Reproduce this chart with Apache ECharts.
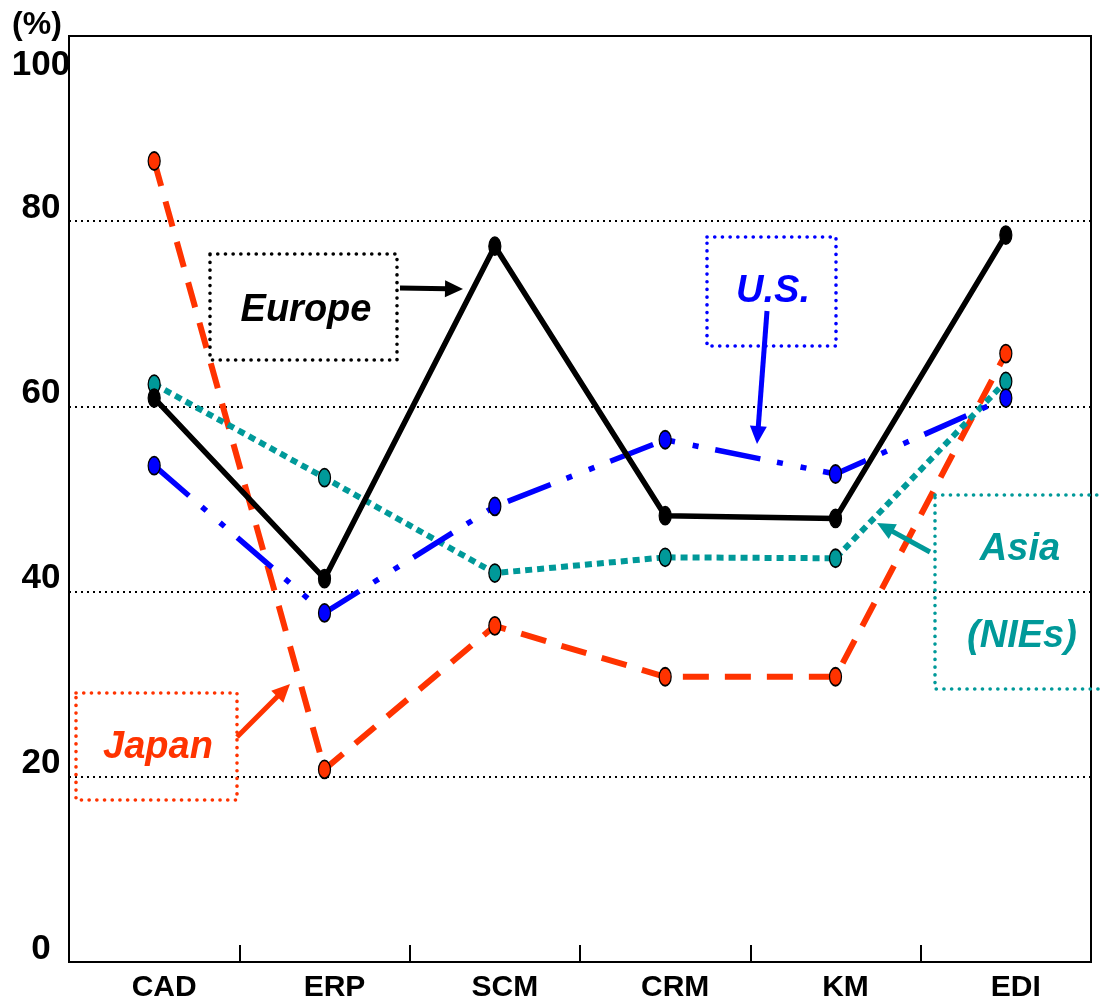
<!DOCTYPE html>
<html>
<head>
<meta charset="utf-8">
<script src="https://cdn.jsdelivr.net/npm/echarts@6/dist/echarts.min.js"></script>
<style>
html,body{margin:0;padding:0;background:#fff;}
#chart{width:1101px;height:1007px;}
</style>
</head>
<body>
<div id="chart"></div>
<script>
const categories = ['CAD', 'ERP', 'SCM', 'CRM', 'KM', 'EDI'];
const europe = [60.9, 41.4, 77.3, 48.2, 47.9, 78.5];
const us = [53.6, 37.7, 49.2, 56.4, 52.7, 60.9];
const asia = [62.4, 52.3, 42.0, 43.7, 43.6, 62.7];
const japan = [86.5, 20.8, 36.3, 30.8, 30.8, 65.7];
const yTicks = [0, 20, 40, 60, 80, 100];

const FONT = "'Liberation Sans', Arial, sans-serif";
const BLUE = '#0000FF', TEAL = '#009999', RED = '#FF3300', BLACK = '#000000';

function arrow(x1, y1, x2, y2, color) {
  const dx = x2 - x1, dy = y2 - y1, L = Math.hypot(dx, dy);
  const ux = dx / L, uy = dy / L, hl = 18, hw = 8.5;
  const bx = x2 - ux * hl, by = y2 - uy * hl;
  return [
    {type: 'line', z: 50, shape: {x1: x1, y1: y1, x2: bx + ux * 2, y2: by + uy * 2}, style: {stroke: color, lineWidth: 5}},
    {type: 'polygon', z: 50, shape: {points: [[x2, y2], [bx - uy * hw, by + ux * hw], [bx + uy * hw, by - ux * hw]]}, style: {fill: color}}
  ];
}
function box(x1, y1, x2, y2, color) {
  return {type: 'rect', z: 50, shape: {x: x1, y: y1, width: x2 - x1, height: y2 - y1},
    style: {fill: 'none', stroke: color, lineWidth: 3.6, lineDash: [0.1, 7.6], lineCap: 'round'}};
}
function label(text, x, y, color) {
  return {type: 'text', z: 51, x: x, y: y, style: {text: text, fill: color, font: "italic bold 38px " + FONT, align: 'center', verticalAlign: 'middle'}};
}

function makeSeries(name, data, color, type, width) {
  return {
    name: name, type: 'line', data: data,
    symbol: 'circle', symbolSize: [12, 18],
    itemStyle: {color: color, borderColor: '#000', borderWidth: 1.5},
    lineStyle: {color: color, width: width, type: type, cap: 'butt'},
    emphasis: {disabled: true},
    animation: false
  };
}

const chart = echarts.init(document.getElementById('chart'));
chart.setOption({
  animation: false,
  grid: {left: 69, top: 36, right: 10, bottom: 45, show: true, borderColor: '#000', borderWidth: 2, backgroundColor: 'transparent'},
  xAxis: {
    type: 'category', data: categories, boundaryGap: true,
    axisLine: {lineStyle: {color: '#000', width: 2}},
    axisTick: {show: true, inside: true, length: 17, lineStyle: {color: '#000', width: 2}},
    axisLabel: {color: '#000', fontFamily: FONT, fontWeight: 'bold', fontSize: 30, margin: 11, padding: [0, 0, 0, 20]},
    splitLine: {show: false}
  },
  yAxis: {
    type: 'value', min: 0, max: 100, interval: 20,
    axisLine: {show: true, lineStyle: {color: '#000', width: 2}},
    axisTick: {show: false},
    splitLine: {show: true, lineStyle: {color: '#000', width: 2, type: [2, 4]}},
    axisLabel: {
      align: 'center', margin: 28, verticalAlign: 'middle',
      formatter: function (v) { return yTicks.indexOf(v) < 0 ? '' : (v === 100 ? '{t|' + v + '}' : '{n|' + v + '}'); },
      rich: {
        n: {fontFamily: FONT, fontWeight: 'bold', fontSize: 35, color: '#000', padding: [0, 0, 26, 0]},
        t: {fontFamily: FONT, fontWeight: 'bold', fontSize: 35, color: '#000', padding: [59, 0, 0, 0]}
      }
    }
  },
  series: [
    makeSeries('Japan', japan, RED, [26, 16], 6),
    makeSeries('Asia (NIEs)', asia, TEAL, [7, 5], 6),
    makeSeries('U.S.', us, BLUE, [46, 17, 6, 18, 6, 17], 5.5),
    makeSeries('Europe', europe, BLACK, 'solid', 5.5)
  ],
  graphic: [
    {type: 'text', x: 37, y: 25, style: {text: '(%)', fill: '#000', font: 'bold 32px ' + FONT, align: 'center', verticalAlign: 'middle'}},
    box(210, 254, 397, 360, BLACK), label('Europe', 306, 311, BLACK),
    ...arrow(400, 288, 463, 289, BLACK),
    box(707, 237, 836, 346, BLUE), label('U.S.', 773, 292, BLUE),
    ...arrow(767, 311, 757, 444, BLUE),
    box(935, 495, 1112, 689, TEAL), label('Asia', 1020, 550, TEAL), label('(NIEs)', 1022, 637, TEAL),
    ...arrow(930, 552, 877, 523, TEAL),
    box(76, 693, 237, 800, RED), label('Japan', 158, 748, RED),
    ...arrow(237, 737, 290, 684, RED)
  ]
});
</script>
</body>
</html>
